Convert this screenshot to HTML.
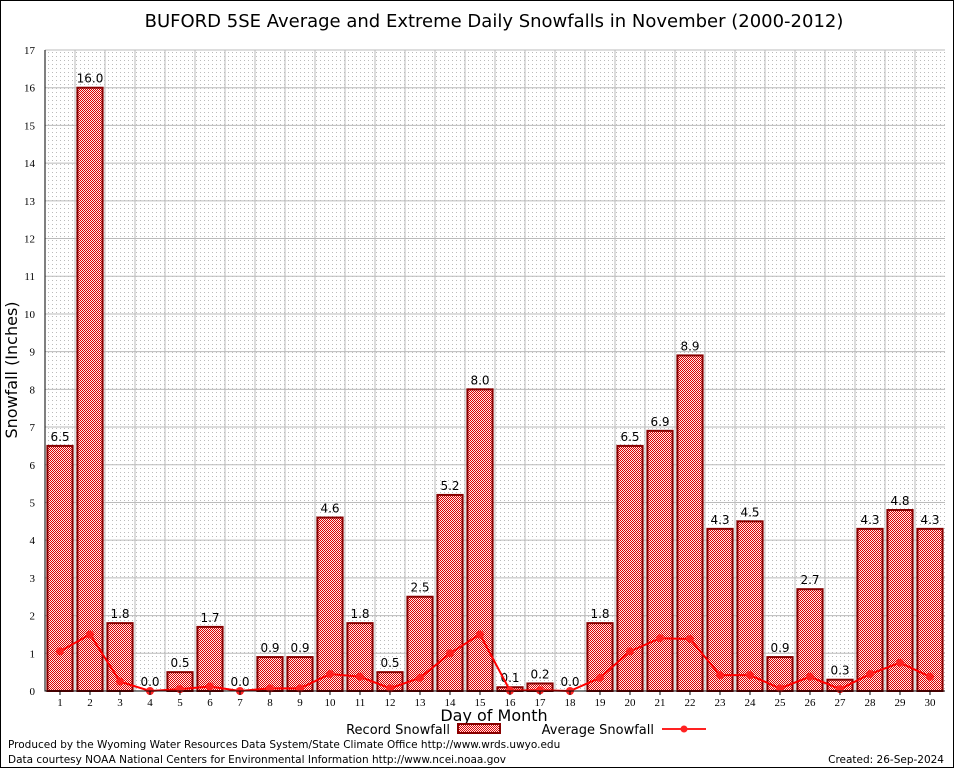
<!DOCTYPE html>
<html><head><meta charset="utf-8"><style>
body{margin:0;background:#fff}
svg{display:block;font-family:"DejaVu Sans","Liberation Sans",sans-serif}
</style></head><body>
<svg id="chart" width="954" height="768" viewBox="0 0 954 768" xmlns="http://www.w3.org/2000/svg">
<defs>
<pattern id="checker" width="2" height="2" patternUnits="userSpaceOnUse"><rect width="2" height="2" fill="#fdeaea"/><rect width="1" height="1" fill="#d00"/><rect x="1" y="1" width="1" height="1" fill="#d00"/></pattern>
<pattern id="dots" width="4" height="4" patternUnits="userSpaceOnUse"><rect width="4" height="4" fill="#fff"/><rect width="1" height="1" fill="#bbb"/></pattern>
</defs>
<rect x="0.5" y="0.5" width="953" height="767" fill="#fff" stroke="#000"/>
<text x="494" y="27" font-size="18" text-anchor="middle">BUFORD 5SE Average and Extreme Daily Snowfalls in November (2000-2012)</text>
<rect x="45" y="50" width="900" height="641" fill="url(#dots)"/>
<g id="grid"></g>
<g id="bars"></g>
<g id="avg"></g>
<g id="axes"></g>
<text transform="translate(17,370) rotate(-90)" font-size="16" text-anchor="middle">Snowfall (Inches)</text>
<text x="494" y="721" font-size="16" text-anchor="middle">Day of Month</text>
<g>
<text x="450" y="734" font-size="13" text-anchor="end">Record Snowfall</text>
<rect x="458" y="724" width="42" height="9" fill="url(#checker)" stroke="#800" stroke-width="2"/>
<text x="654" y="734" font-size="13" text-anchor="end">Average Snowfall</text>
<line x1="662" y1="729" x2="706" y2="729" stroke="#f22" stroke-width="2"/>
<circle cx="684" cy="729" r="3.5" fill="#f22"/>
</g>
<text x="8" y="748" font-size="10.5">Produced by the Wyoming Water Resources Data System/State Climate Office http://www.wrds.uwyo.edu</text>
<text x="8" y="763" font-size="10.5">Data courtesy NOAA National Centers for Environmental Information http://www.ncei.noaa.gov</text>
<text x="944" y="763" font-size="10.5" text-anchor="end">Created: 26-Sep-2024</text>
</svg>
<script>
const days=[1,2,3,4,5,6,7,8,9,10,11,12,13,14,15,16,17,18,19,20,21,22,23,24,25,26,27,28,29,30];
const recordSnow=[6.5,16.0,1.8,0.0,0.5,1.7,0.0,0.9,0.9,4.6,1.8,0.5,2.5,5.2,8.0,0.1,0.2,0.0,1.8,6.5,6.9,8.9,4.3,4.5,0.9,2.7,0.3,4.3,4.8,4.3];
const avgSnow=[1.05,1.5,0.25,0,0.05,0.12,0,0.07,0.07,0.45,0.38,0.07,0.35,1.0,1.5,0.01,0.02,0,0.35,1.05,1.4,1.38,0.42,0.42,0.07,0.38,0.05,0.45,0.75,0.38];
const yTicks=[0,1,2,3,4,5,6,7,8,9,10,11,12,13,14,15,16,17];
const NS="http://www.w3.org/2000/svg";
const L=45,R=945,T=50,B=691,yMax=17;
const slot=(R-L)/days.length;
const x=d=>L+(d-0.5)*slot;
const y=v=>B-v/yMax*(B-T);
function mk(tag,attrs,parent,txt){const e=document.createElementNS(NS,tag);for(const k in attrs)e.setAttribute(k,attrs[k]);if(txt!==undefined)e.textContent=txt;parent.appendChild(e);return e;}
const grid=document.getElementById('grid'),bars=document.getElementById('bars'),avg=document.getElementById('avg'),axes=document.getElementById('axes');
yTicks.forEach(t=>{
  const l=mk('line',{x1:L,x2:R,y1:y(t),y2:y(t),stroke:'#bbb','stroke-width':1},grid);
  
  
  const tx=mk('text',{x:L-10,y:y(t)+4,'font-size':11,'text-anchor':'end','font-family':'Liberation Serif, serif'},axes,String(t));
  
  
});
days.forEach((d,i)=>{
  const gx=L+i*slot;
  const l=mk('line',{x1:gx,x2:gx,y1:T,y2:B,stroke:'#bbb','stroke-width':1},grid);
  
  
  const bw=slot*0.84,v=recordSnow[i];
  const r=mk('rect',{x:x(d)-bw/2,y:y(v),width:bw,height:B-y(v),fill:'url(#checker)',stroke:'#800','stroke-width':2},bars);
  
  
  const lb=mk('text',{x:x(d),y:y(v)-5,'font-size':12,'text-anchor':'middle'},bars,v.toFixed(1));
  
  
  const tx=mk('text',{x:x(d),y:B+15,'font-size':11,'text-anchor':'middle','font-family':'Liberation Serif, serif'},axes,String(d));
  
  
  const tk=mk('line',{x1:x(d),x2:x(d),y1:B,y2:B+4,stroke:'#000'},axes);
  
  
});
const pl=mk('polyline',{points:days.map((d,i)=>x(d)+','+y(avgSnow[i])).join(' '),fill:'none',stroke:'#f00','stroke-width':2},avg);


days.forEach((d,i)=>{
  const c=mk('circle',{cx:x(d),cy:y(avgSnow[i]),r:4,fill:'#f22'},avg);
  
  
});
const ax=mk('path',{d:`M${L},${T} L${L},${B} L${R},${B}`,fill:'none',stroke:'#000','stroke-width':1},axes);


</script>
</body></html>
